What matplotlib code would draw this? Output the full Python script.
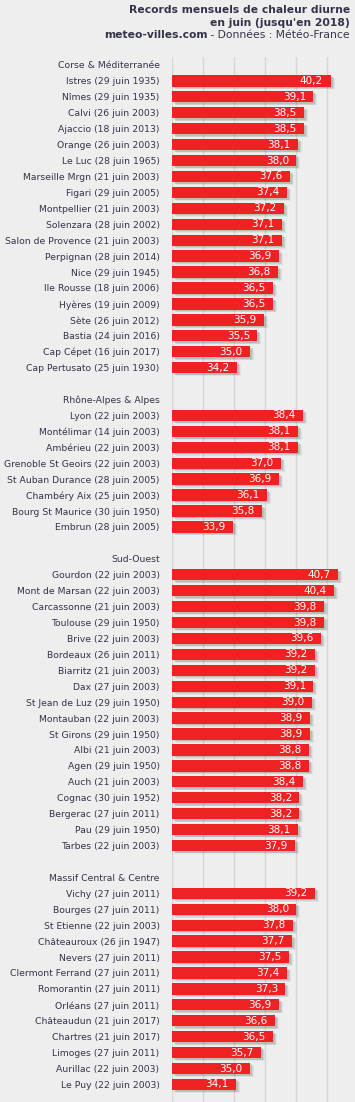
import matplotlib
matplotlib.use("Agg")
import matplotlib.pyplot as plt
from matplotlib.transforms import ScaledTranslation

# ---- data ----
groups = ["Corse & Méditerranée", "Rhône-Alpes & Alpes", "Sud-Ouest", "Massif Central & Centre"]

corse_labels = ["Istres (29 juin 1935)", "Nîmes (29 juin 1935)", "Calvi (26 juin 2003)", "Ajaccio (18 juin 2013)",
                "Orange (26 juin 2003)", "Le Luc (28 juin 1965)", "Marseille Mrgn (21 juin 2003)", "Figari (29 juin 2005)",
                "Montpellier (21 juin 2003)", "Solenzara (28 juin 2002)", "Salon de Provence (21 juin 2003)",
                "Perpignan (28 juin 2014)", "Nice (29 juin 1945)", "Ile Rousse (18 juin 2006)", "Hyères (19 juin 2009)",
                "Sète (26 juin 2012)", "Bastia (24 juin 2016)", "Cap Cépet (16 juin 2017)", "Cap Pertusato (25 juin 1930)"]
corse_values = [40.2, 39.1, 38.5, 38.5, 38.1, 38.0, 37.6, 37.4, 37.2, 37.1, 37.1, 36.9, 36.8, 36.5, 36.5, 35.9, 35.5, 35.0, 34.2]

rhone_labels = ["Lyon (22 juin 2003)", "Montélimar (14 juin 2003)", "Ambérieu (22 juin 2003)",
                "Grenoble St Geoirs (22 juin 2003)", "St Auban Durance (28 juin 2005)", "Chambéry Aix (25 juin 2003)",
                "Bourg St Maurice (30 juin 1950)", "Embrun (28 juin 2005)"]
rhone_values = [38.4, 38.1, 38.1, 37.0, 36.9, 36.1, 35.8, 33.9]

so_labels = ["Gourdon (22 juin 2003)", "Mont de Marsan (22 juin 2003)", "Carcassonne (21 juin 2003)",
             "Toulouse (29 juin 1950)", "Brive (22 juin 2003)", "Bordeaux (26 juin 2011)", "Biarritz (21 juin 2003)",
             "Dax (27 juin 2003)", "St Jean de Luz (29 juin 1950)", "Montauban (22 juin 2003)", "St Girons (29 juin 1950)",
             "Albi (21 juin 2003)", "Agen (29 juin 1950)", "Auch (21 juin 2003)", "Cognac (30 juin 1952)",
             "Bergerac (27 juin 2011)", "Pau (29 juin 1950)", "Tarbes (22 juin 2003)"]
so_values = [40.7, 40.4, 39.8, 39.8, 39.6, 39.2, 39.2, 39.1, 39.0, 38.9, 38.9, 38.8, 38.8, 38.4, 38.2, 38.2, 38.1, 37.9]

mc_labels = ["Vichy (27 juin 2011)", "Bourges (27 juin 2011)", "St Etienne (22 juin 2003)", "Châteauroux (26 jin 1947)",
             "Nevers (27 juin 2011)", "Clermont Ferrand (27 juin 2011)", "Romorantin (27 juin 2011)",
             "Orléans (27 juin 2011)", "Châteaudun (21 juin 2017)", "Chartres (21 juin 2017)", "Limoges (27 juin 2011)",
             "Aurillac (22 juin 2003)", "Le Puy (22 juin 2003)"]
mc_values = [39.2, 38.0, 37.8, 37.7, 37.5, 37.4, 37.3, 36.9, 36.6, 36.5, 35.7, 35.0, 34.1]

xticks = [30, 32, 34, 36, 38, 40]
title1 = "Records mensuels de chaleur diurne"
title2 = "en juin (jusqu'en 2018)"
title3a = "meteo-villes.com"
title3b = " - Données : Météo-France"

# ---- build rows ----
sections = [(groups[0], corse_labels, corse_values), (groups[1], rhone_labels, rhone_values),
            (groups[2], so_labels, so_values), (groups[3], mc_labels, mc_values)]
row_labels, row_vals = [], []
for i, (g, labs, vals) in enumerate(sections):
    if i > 0:
        row_labels.append("")
        row_vals.append(None)
    row_labels.append(g)
    row_vals.append(None)
    row_labels.extend(labs)
    row_vals.extend(vals)

W, H = 355, 1102
fig = plt.figure(figsize=(W / 100, H / 100), dpi=100)
fig.patch.set_facecolor("#eeeeee")

x0, x1 = 30, 41.4
ppu = 15.54
ax_left = 172
ax_w = (x1 - x0) * ppu
row_h = 15.93
top = 57
nrows_vis = (H - top) / row_h
ax = fig.add_axes([ax_left / W, 0, ax_w / W, (H - top) / H])
ax.set_facecolor("#eeeeee")
ax.set_xlim(x0, x1)
ax.set_ylim(-0.5 + nrows_vis, -0.5)

for t in xticks:
    ax.axvline(t, color="#d6d6d6", lw=1.0, zorder=0)

ys = [i for i, v in enumerate(row_vals) if v is not None]
vs = [v for v in row_vals if v is not None]
bh = 0.71
for k, a in [(0, 0.16), (1, 0.12), (2, 0.08)]:
    tr = ax.transData + ScaledTranslation((2.0 + k) / 100, -(1.5 + k * 0.7) / 100, fig.dpi_scale_trans)
    ax.barh(ys, [v - x0 for v in vs], left=x0, height=bh, color="#555555", alpha=a,
            transform=tr, zorder=1, linewidth=0)
ax.barh(ys, [v - x0 for v in vs], left=x0, height=bh, color="#ee2222", zorder=2, linewidth=0)

off = ScaledTranslation(-7.5 / 100, 0, fig.dpi_scale_trans)
for y, v in zip(ys, vs):
    ax.text(v, y, f"{v:.1f}".replace(".", ","), transform=ax.transData + off, ha="right", va="center",
            color="white", fontsize=7.5, family="DejaVu Sans", zorder=3)

ax.set_yticks(range(len(row_labels)))
ax.set_yticklabels(row_labels, fontsize=6.7, color="#33334a", family="DejaVu Sans")
ax.tick_params(axis="y", length=0, pad=9)
ax.set_xticks([])
for s in ax.spines.values():
    s.set_visible(False)

tcol = "#33334a"
fs = 7.75
fig.text(350 / W, 1 - 13 / H, title1, ha="right", va="baseline", fontsize=fs, fontweight="bold", color=tcol)
fig.text(350 / W, 1 - 26 / H, title2, ha="right", va="baseline", fontsize=fs, fontweight="bold", color=tcol)
t3 = fig.text(350 / W, 1 - 38 / H, title3b, ha="right", va="baseline", fontsize=fs, color=tcol)
fig.canvas.draw()
bb = t3.get_window_extent()
fig.text(bb.x0 / W, 1 - 38 / H, title3a, ha="right", va="baseline", fontsize=fs, fontweight="bold", color=tcol)

fig.savefig("out.png", dpi=100, facecolor=fig.get_facecolor())
